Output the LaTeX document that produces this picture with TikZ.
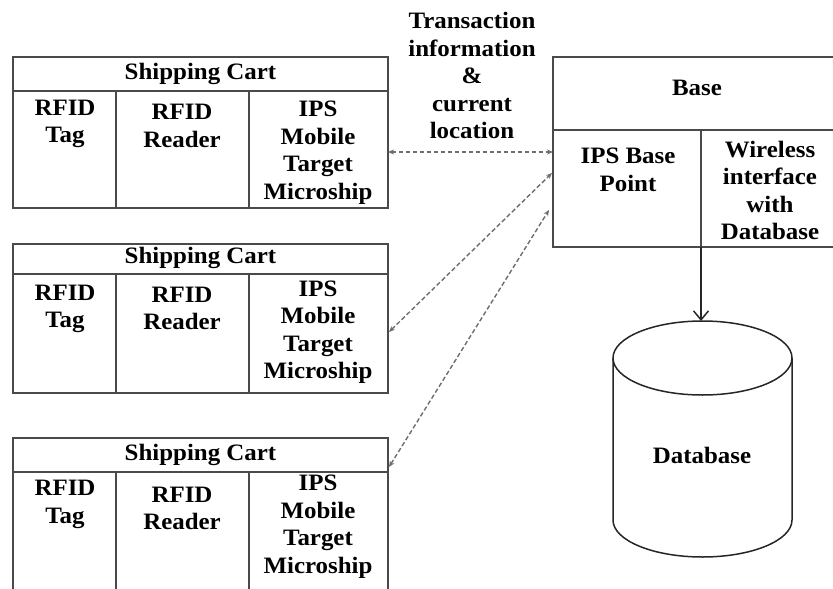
\documentclass[tikz,border=0pt]{standalone}
\usepackage{fontspec}
\setmainfont{Liberation Serif}[FakeStretch=1.06]
\usetikzlibrary{arrows.meta}
\definecolor{boxgray}{HTML}{4A4A4A}
\definecolor{linkgray}{HTML}{6E6E6E}
\begin{document}
\begin{tikzpicture}[x=1pt,y=-1pt,
  box/.style={draw=boxgray,line width=1.6pt},
  lbl/.style={font=\bfseries\fontsize{23.5}{27.5}\selectfont,align=center,inner sep=0pt},
  link/.style={draw=linkgray,line width=1.4pt,dash pattern=on 4.5pt off 2.5pt,
    {Stealth[length=6pt,width=5pt]}-{Stealth[length=6pt,width=5pt]}},
  feed/.style={draw=black!85,line width=1.5pt,-{Straight Barb[length=9pt,width=15pt]}}]
\useasboundingbox (0,0) rectangle (833,589);
\clip (0,0) rectangle (833,589);

% three shipping carts: outline, header rule, column rules
\foreach \t/\h/\b in {57/91/208, 244/274/393, 438/472/600}{
  \draw[box] (13,\t) rectangle (388,\b);
  \draw[box] (13,\h) -- (388,\h);
  \draw[box] (116,\h) -- (116,\b);
  \draw[box] (249,\h) -- (249,\b);
}

% cart 1
\node[lbl] (hdr1) at (200.5,74) {Shipping Cart};
\node[lbl] (tag1) at (65,124) {RFID\\Tag};
\node[lbl] (rdr1) at (182,126) {RFID\\Reader};
\node[lbl] (ips1) at (318,152.5) {IPS\\Mobile\\Target\\Microship};
% cart 2
\node[lbl] (hdr2) at (200.5,258) {Shipping Cart};
\node[lbl] (tag2) at (65,309) {RFID\\Tag};
\node[lbl] (rdr2) at (182,308.5) {RFID\\Reader};
\node[lbl] (ips2) at (318,332) {IPS\\Mobile\\Target\\Microship};
% cart 3
\node[lbl] (hdr3) at (200.5,455) {Shipping Cart};
\node[lbl] (tag3) at (65,504.5) {RFID\\Tag};
\node[lbl] (rdr3) at (182,508.5) {RFID\\Reader};
\node[lbl] (ips3) at (318,526.5) {IPS\\Mobile\\Target\\Microship};

% base station
\draw[box] (553,57) rectangle (845,247);
\draw[box] (553,130) -- (845,130);
\draw[box] (701,130) -- (701,247);
\node[lbl] (base) at (697,88) {Base};
\node[lbl] (ipsbase) at (628,170) {IPS Base\\Point};
\node[lbl] (wifi) at (770,190.5) {Wireless\\interface\\with\\Database};

% link label
\node[lbl] (info) at (472,75.5) {Transaction\\information\\\&\\current\\location};

% database cylinder
\draw[line width=1.5pt,draw=black!85]
  (613,358) -- (613,520) arc[start angle=180,end angle=360,x radius=89.5pt,y radius=37pt]
  -- (792,358);
\draw[line width=1.5pt,draw=black!85] (702.5,358) ellipse[x radius=89.5pt,y radius=37pt];
\coordinate (dbtop) at (701,321);
\node[lbl] (db) at (702,455) {Database};

% connectors
\coordinate (c1e) at (388,152);
\coordinate (c2e) at (389,332);
\coordinate (c3e) at (389,467);
\coordinate (b1) at (553,152);
\coordinate (b2) at (552,173);
\coordinate (b3) at (549,210);
\coordinate (bout) at (701,247);
\draw[link] (c1e) -- (b1);
\draw[link] (c2e) -- (b2);
\draw[link] (c3e) -- (b3);
\draw[feed] (bout) -- (dbtop);
\end{tikzpicture}
\end{document}
